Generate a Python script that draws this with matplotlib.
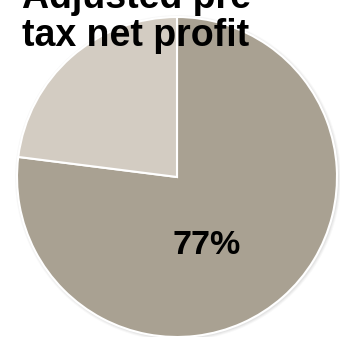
import matplotlib.pyplot as plt
from matplotlib.patches import Circle

# Anteil am bereinigten Vorsteuergewinn
segments = ['Segment A', 'Übrige']
share = [77, 23]
colors = ['#A9A192', '#D3CCC2']
title_lines = ["Adjusted pre-", "tax net profit"]

fig = plt.figure(figsize=(3.4, 3.37), dpi=100)
ax = fig.add_axes([0, 0, 1, 1])

cx, cy, r = 177, 160, 160

# weicher Schatten unter dem Kreis
for i, a in enumerate([0.05, 0.07, 0.09]):
    ax.add_patch(Circle((cx + 1, cy - 1), r + 3 - i, color='#808080', alpha=a,
                        lw=0, zorder=0))

wedges, _ = ax.pie(share, colors=colors, startangle=90, counterclock=False,
                   center=(cx, cy), radius=r, frame=True,
                   wedgeprops=dict(edgecolor='white', linewidth=1.5))
ax.set_xlim(0, 340)
ax.set_ylim(0, 337)
ax.set_aspect('equal')
ax.axis('off')

ax.text(207, 337 - 245, f"{share[0]}%", ha='center', va='center',
        fontsize=24.5, fontweight='bold', family='Liberation Sans', color='black')

# Titel, oben abgeschnitten
for line, base in zip(title_lines, [8, 46]):
    fig.text(22 / 340, 1 - base / 337, line, ha='left', va='baseline',
             fontsize=27, fontweight='bold', family='Liberation Sans',
             color='black')

fig.savefig('out.png', dpi=100)
